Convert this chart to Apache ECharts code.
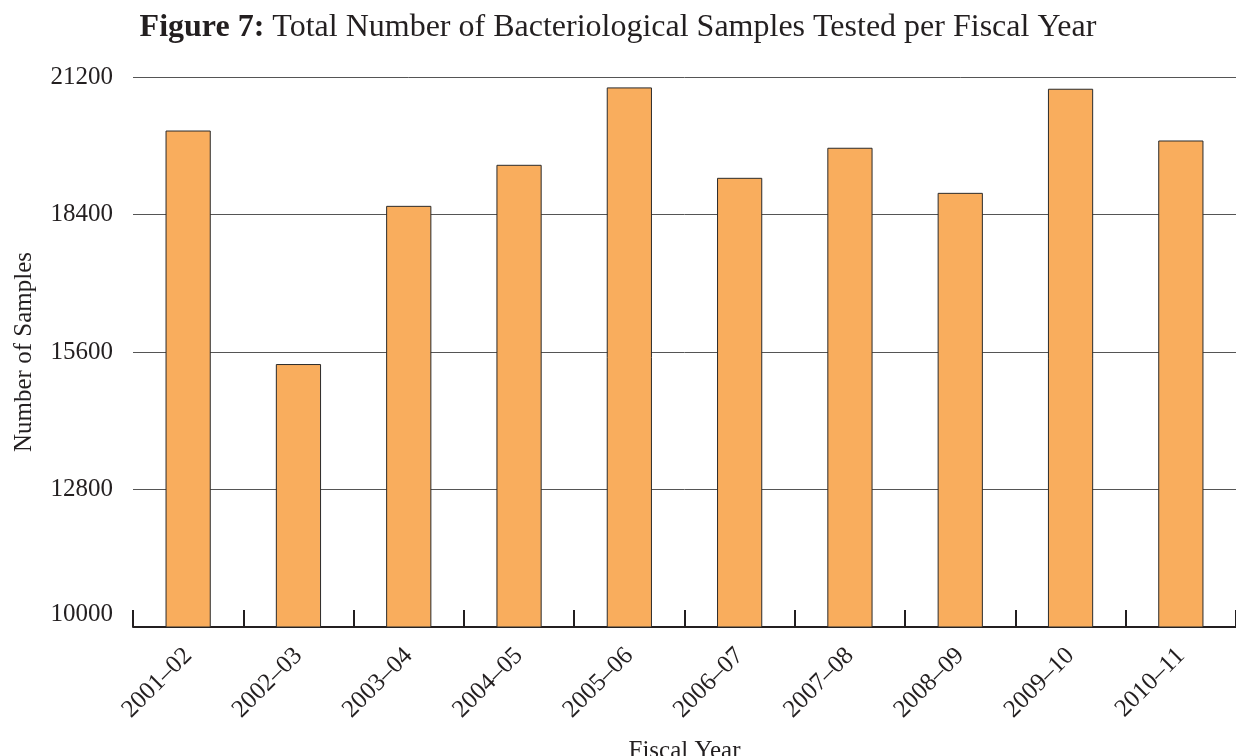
<!DOCTYPE html>
<html>
<head>
<meta charset="utf-8">
<script src="https://cdn.jsdelivr.net/npm/echarts@6/dist/echarts.min.js"></script>
<style>
  html, body { margin: 0; padding: 0; background: #fff; }
  #chart { width: 1236px; height: 756px; }
</style>
</head>
<body>
<div id="chart"></div>
<script>
const fiscalYears = ['2001–02', '2002–03', '2003–04', '2004–05', '2005–06',
  '2006–07', '2007–08', '2008–09', '2009–10', '2010–11']
const samples = [20110, 15355, 18576, 19412, 20988, 19147, 19759, 18841, 20961, 19907]
const yMin = 10000
const yMax = 21200
const yStep = 2800

const font = '"Liberation Serif", "DejaVu Serif", serif'
const ink = '#231f20'

const chart = echarts.init(document.getElementById('chart'))
chart.setOption({
  animation: false,
  title: {
    text: '{b|Figure 7:} {n|Total Number of Bacteriological Samples Tested per Fiscal Year}',
    left: 'center',
    top: 7,
    textStyle: {
      fontFamily: font,
      fontSize: 32,
      fontWeight: 'normal',
      color: ink,
      rich: {
        b: { fontFamily: font, fontSize: 32, fontWeight: 'bold', color: ink },
        n: { fontFamily: font, fontSize: 32, fontWeight: 'normal', color: ink }
      }
    }
  },
  grid: {
    left: 133,
    right: 0,
    top: 77,
    bottom: 129,
    outerBoundsMode: 'none'
  },
  xAxis: {
    type: 'category',
    data: fiscalYears,
    name: 'Fiscal Year',
    nameLocation: 'middle',
    nameGap: 112,
    nameTextStyle: { fontFamily: font, fontSize: 25, color: ink },
    boundaryGap: true,
    axisLine: { lineStyle: { color: ink, width: 2 } },
    axisTick: { show: true, inside: true, length: 17, lineStyle: { color: ink, width: 2 } },
    axisLabel: {
      rotate: 45,
      margin: 25,
      fontFamily: font,
      fontSize: 25,
      color: ink
    }
  },
  yAxis: {
    type: 'value',
    min: yMin,
    max: yMax,
    interval: yStep,
    name: 'Number of Samples',
    nameLocation: 'middle',
    nameGap: 96,
    nameRotate: 90,
    nameTextStyle: { fontFamily: font, fontSize: 25, color: ink },
    axisLine: { show: false },
    axisTick: { show: false },
    splitLine: { lineStyle: { color: '#555', width: 1 } },
    axisLabel: {
      margin: 20,
      fontFamily: font,
      fontSize: 25,
      color: ink,
      formatter: v => String(v),
      verticalAlignMinLabel: 'bottom'
    }
  },
  series: [
    {
      type: 'bar',
      data: samples,
      barWidth: '41%',
      itemStyle: {
        color: '#f9ad5d',
        borderColor: '#2b2b2b',
        borderWidth: 1
      }
    }
  ]
})
</script>
</body>
</html>
